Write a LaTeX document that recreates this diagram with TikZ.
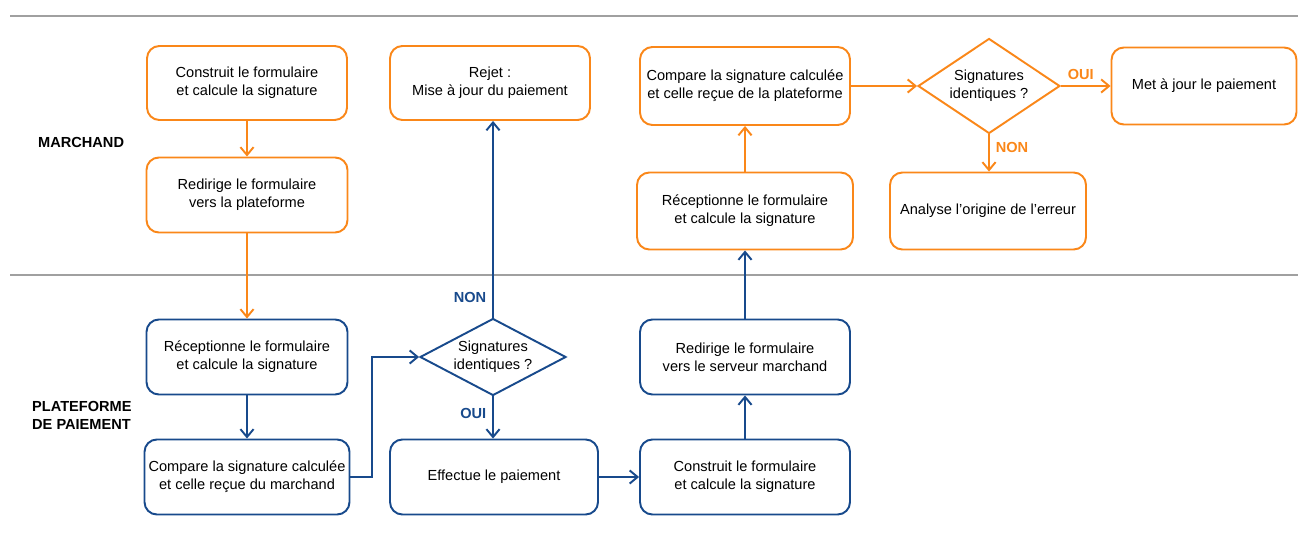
\documentclass[tikz,border=0pt]{standalone}
\usepackage{fontspec}
\setmainfont{Liberation Sans}
\usetikzlibrary{arrows.meta,shapes.geometric}
\definecolor{orangeM}{RGB}{250,135,25}
\definecolor{bleuP}{RGB}{24,74,140}
\definecolor{grisL}{RGB}{160,160,160}
\begin{document}
\begin{tikzpicture}[x=0.02cm,y=-0.02cm,>={Straight Barb[length=4.5pt,width=7.5pt]},
  font=\fontsize{8.3}{10.2}\selectfont,
  boite/.style={rectangle,rounded corners=7pt,line width=1.1pt,fill=white,align=center,inner sep=0pt},
  losange/.style={diamond,line width=1.1pt,fill=white,align=center,inner sep=0pt},
  fm/.style={->,line width=1.1pt,draw=orangeM},
  fp/.style={->,line width=1.1pt,draw=bleuP},
  rep/.style={font=\fontsize{8.3}{10.2}\selectfont\bfseries}]
\useasboundingbox (0,0) rectangle (1298,557);

% couloirs
\draw[grisL,line width=1pt] (10,16)--(1298,16);
\draw[grisL,line width=1pt] (10,275)--(1298,275);
\node (lm) at (32,142)[anchor=west,font=\fontsize{8.3}{10.2}\selectfont\bfseries]{MARCHAND};
\node (lp) at (26,415)[anchor=west,align=left,font=\fontsize{8.3}{10.2}\selectfont\bfseries]{PLATEFORME\\DE PAIEMENT};

% marchand
\node (m1) at (247,83)[boite,draw=orangeM,minimum width=4cm,minimum height=1.48cm]{Construit le formulaire\\et calcule la signature};
\node (m2) at (247,195)[boite,draw=orangeM,minimum width=4.02cm,minimum height=1.5cm]{Redirige le formulaire\\vers la plateforme};
\node (m3) at (490,83)[boite,draw=orangeM,minimum width=4cm,minimum height=1.48cm]{Rejet :\\Mise à jour du paiement};
\node (m4) at (745,86)[boite,draw=orangeM,minimum width=4.2cm,minimum height=1.56cm]{Compare la signature calculée\\et celle reçue de la plateforme};
\node (m5) at (745,211)[boite,draw=orangeM,minimum width=4.32cm,minimum height=1.54cm]{Réceptionne le formulaire\\et calcule la signature};
\node (d2) at (989,86)[losange,aspect=1.5,draw=orangeM,minimum width=2.84cm,minimum height=1.9cm]{Signatures\\identiques ?};
\node (m6) at (1204,86)[boite,draw=orangeM,minimum width=3.7cm,minimum height=1.54cm]{Met à jour le paiement};
\node (m7) at (988,211)[boite,draw=orangeM,minimum width=3.92cm,minimum height=1.54cm]{Analyse l'origine de l'erreur};

% plateforme
\node (p1) at (247,357)[boite,draw=bleuP,minimum width=4.02cm,minimum height=1.5cm]{Réceptionne le formulaire\\et calcule la signature};
\node (p2) at (247,477)[boite,draw=bleuP,minimum width=4.1cm,minimum height=1.5cm]{Compare la signature calculée\\et celle reçue du marchand};
\node (d1) at (493,357)[losange,aspect=1.9,draw=bleuP,minimum width=2.92cm,minimum height=1.54cm]{Signatures\\identiques ?};
\node (p3) at (494,477)[boite,draw=bleuP,minimum width=4.16cm,minimum height=1.5cm]{Effectue le paiement};
\node (p4) at (745,477)[boite,draw=bleuP,minimum width=4.2cm,minimum height=1.5cm]{Construit le formulaire\\et calcule la signature};
\node (p5) at (745,357)[boite,draw=bleuP,minimum width=4.2cm,minimum height=1.5cm]{Redirige le formulaire\\vers le serveur marchand};

\draw[fm](m1)--(m2);
\draw[fm](m2)--(p1);
\draw[fp](p1)--(p2);
\draw[fp](p2.east)--++(22,0)|-(d1.west);
\draw[fp](d1.north)--node[pos=0.1,left,rep,text=bleuP]{NON}(d1.north|-m3.south);
\draw[fp](d1.south)--node[pos=0.4,left,rep,text=bleuP]{OUI}(d1.south|-p3.north);
\draw[fp](p3)--(p4);
\draw[fp](p4)--(p5);
\draw[fp](p5)--(m5);
\draw[fm](m5)--(m4);
\draw[fm](m4)--(d2);
\draw[fm](d2)--node[pos=0.4,above,rep,text=orangeM]{OUI}(m6);
\draw[fm](d2.south)--node[pos=0.35,right,rep,text=orangeM]{NON}(d2.south|-m7.north);
\end{tikzpicture}
\end{document}
